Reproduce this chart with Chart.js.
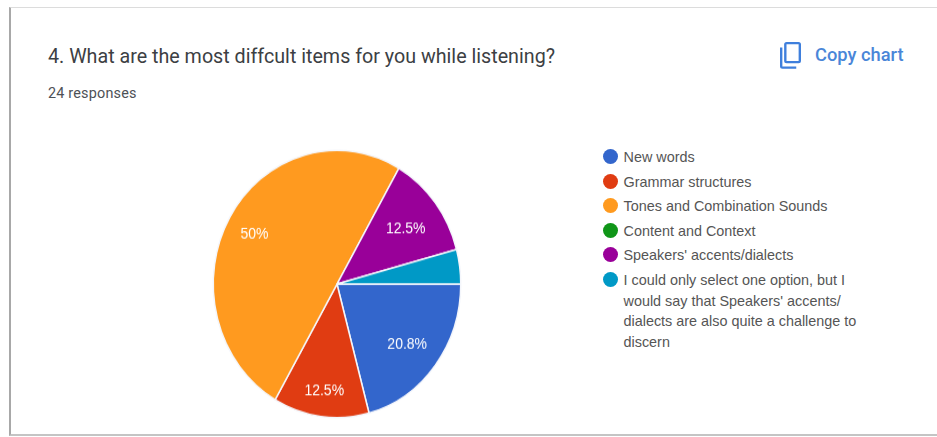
<!DOCTYPE html>
<html>
<head>
<meta charset="utf-8">
<title>Responses</title>
<script src="https://cdn.jsdelivr.net/npm/chart.js@4"></script>
<style>
  html, body { margin: 0; padding: 0; background: #fff; overflow: hidden; }
  #page { position: relative; width: 937px; height: 437px; overflow: hidden; }
  #card {
    position: absolute; left: 9px; top: 7px; width: 940px; height: 429px;
    border-left: 2px solid #a8a8a8; border-top: 1px solid #dcdcdc; border-bottom: 2px solid #c4c4c4;
    box-sizing: border-box;
  }
  #title {
    position: absolute; left: 48px; top: 45px; font: 19.7px Roboto, sans-serif;
    color: #3c4043; white-space: nowrap;
  }
  #count {
    position: absolute; left: 48px; top: 85px; font: 14.4px Roboto, sans-serif;
    color: #4d5156; white-space: nowrap; letter-spacing: 0.2px;
  }
  #copy {
    position: absolute; left: 815px; top: 44px; font: 500 18.3px Roboto, sans-serif;
    color: #4a86d8; white-space: nowrap;
  }
  #copyIcon { position: absolute; left: 776px; top: 40px; }
  #pie {
    position: absolute; left: 186.5px; top: 134px;
    transform: scaleY(1.08); transform-origin: center center;
  }
  #legend { position: absolute; left: 603px; top: 0; font: 14.4px "Liberation Sans", Arial, sans-serif; color: #555; }
  .row { position: absolute; left: 0; white-space: nowrap; }
  .dot { position: absolute; left: 0; top: 0; width: 15px; height: 15px; border-radius: 50%; }
  .txt { position: absolute; left: 20.5px; top: -2px; line-height: 20.5px; }
</style>
</head>
<body>
<div id="page">
  <div id="card"></div>
  <div id="title">4. What are the most diffcult items for you while listening?</div>
  <div id="count">24 responses</div>
  <svg id="copyIcon" width="30" height="30" viewBox="0 0 24 24" fill="#3f7fdc">
    <path d="M16 1.5H8.5A2 2 0 0 0 6.5 3.5v13a2 2 0 0 0 2 2H18a2 2 0 0 0 2-2V3.5a2 2 0 0 0-2-2zm.2 15.2H8.4V3.4h9.7v13.3z"/>
    <path d="M3.2 6v15a2 2 0 0 0 2 2h11v-1.9h-11.1V6z"/>
  </svg>
  <div id="copy">Copy chart</div>
  <canvas id="pie" width="300" height="300"></canvas>
  <div id="legend"></div>
</div>
<script>
const categories = [
  "New words",
  "Grammar structures",
  "Tones and Combination Sounds",
  "Content and Context",
  "Speakers' accents/dialects",
  "I could only select one option, but I|would say that Speakers' accents/|dialects are also quite a challenge to|discern"
];
const responses = [5, 3, 12, 0, 3, 1];
const sliceColors = ["#3366cc", "#e03c12", "#ff9a1f", "#109618", "#990099", "#0099c6"];
const legendTops = [149, 174, 198, 223, 247, 272];
// how far out along the slice each percent label sits
const labelReach = [0.715, 0.79, 0.77, 0, 0.7, 0];

const total = responses.reduce((a, b) => a + b, 0);

// Legend
const legend = document.getElementById("legend");
categories.forEach((name, i) => {
  const row = document.createElement("div");
  row.className = "row";
  row.style.top = legendTops[i] + "px";
  const dot = document.createElement("div");
  dot.className = "dot";
  dot.style.background = sliceColors[i];
  const txt = document.createElement("div");
  txt.className = "txt";
  txt.innerHTML = name.split("|").join("<br>");
  row.appendChild(dot);
  row.appendChild(txt);
  legend.appendChild(row);
});

// Percent text on the slices, small slices stay unlabelled
const percentLabels = {
  id: "percentLabels",
  afterDatasetsDraw(chart) {
    const ctx = chart.ctx;
    const arcs = chart.getDatasetMeta(0).data;
    ctx.save();
    ctx.fillStyle = "#fff";
    ctx.font = '14px "Liberation Sans", Arial, sans-serif';
    ctx.textAlign = "center";
    ctx.textBaseline = "middle";
    arcs.forEach((arc, i) => {
      if (labelReach[i] === 0) return;
      const mid = (arc.startAngle + arc.endAngle) / 2;
      const r = arc.outerRadius * labelReach[i];
      const pct = Math.round(responses[i] / total * 1000) / 10;
      ctx.fillText(pct + "%", arc.x + Math.cos(mid) * r, arc.y + Math.sin(mid) * r + 2);
    });
    ctx.restore();
  }
};

new Chart(document.getElementById("pie").getContext("2d"), {
  type: "pie",
  data: {
    labels: categories.map(c => c.replace(/\|/g, " ")),
    datasets: [{
      data: responses,
      backgroundColor: sliceColors,
      borderColor: "#f4f6fb",
      borderWidth: 1.5
    }]
  },
  options: {
    responsive: false,
    animation: false,
    rotation: 90,
    layout: { padding: 25.5 },
    plugins: { legend: { display: false }, tooltip: { enabled: false } }
  },
  plugins: [percentLabels]
});
</script>
</body>
</html>
